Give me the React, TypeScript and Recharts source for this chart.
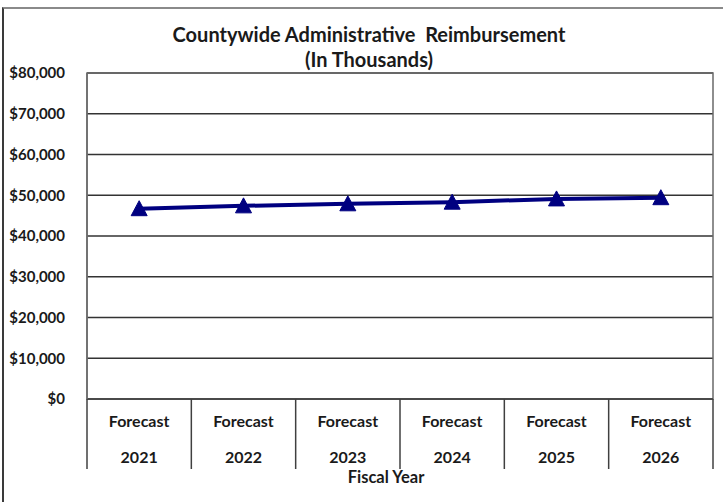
import React from 'react';
import { LineChart, Line, XAxis, YAxis, CartesianGrid, ReferenceArea } from 'recharts';

const categoryPrefix = ['Forecast', 'Forecast', 'Forecast', 'Forecast', 'Forecast', 'Forecast'];
const years = ['2021', '2022', '2023', '2024', '2025', '2026'];
const reimbursement = [46700, 47400, 47900, 48300, 49100, 49400];
const yTicks = [0, 10000, 20000, 30000, 40000, 50000, 60000, 70000, 80000];

const data = years.map((y, i) => ({
  key: `${categoryPrefix[i]} ${y}`,
  top: categoryPrefix[i],
  year: y,
  value: reimbursement[i],
}));

const FONT = 'Lato, "Open Sans", sans-serif';
const TEXT = '#1a1a1a';

const XTick = (props: any) => {
  const { x, y, payload, index, visibleTicksCount } = props;
  const half = payload && payload.offset ? payload.offset : 52;
  const d = data[index] || { top: '', year: '' };
  const isLast = index === visibleTicksCount - 1;
  return (
    <g>
      <line x1={x - half} x2={x - half} y1={y} y2={y + 70} stroke="#404040" strokeWidth={1.5} />
      {isLast && <line x1={x + half} x2={x + half} y1={y} y2={y + 70} stroke="#404040" strokeWidth={1.5} />}
      <text x={x} y={y + 21} textAnchor="middle" dominantBaseline="central" fontFamily={FONT} fontWeight={700} fontSize={16} fill={TEXT}>
        {d.top}
      </text>
      <text x={x} y={y + 57} textAnchor="middle" dominantBaseline="central" fontFamily={FONT} fontWeight={700} fontSize={16} fill={TEXT}>
        {d.year}
      </text>
    </g>
  );
};

const Triangle = (props: any) => {
  const { cx, cy, index } = props;
  if (cx == null || cy == null) return <g key={`t${index}`} />;
  return (
    <polygon
      key={`t${index}`}
      points={`${cx},${cy - 8} ${cx - 8},${cy + 7} ${cx + 8},${cy + 7}`}
      fill="#000080"
      stroke="#000080"
    />
  );
};

export default function App() {
  return (
    <div style={{ position: 'absolute', left: 0, top: 0, width: 723, height: 502, background: '#fff', overflow: 'hidden' }}>
      <div
        style={{
          position: 'absolute',
          left: 2,
          top: 7,
          width: 760,
          height: 560,
          borderLeft: '2px solid #3a3a3a',
          borderTop: '2px solid #8a8a8a',
        }}
      />
      <div
        style={{
          position: 'absolute',
          left: 0,
          top: 22,
          width: 738,
          textAlign: 'center',
          fontFamily: FONT,
          fontWeight: 700,
          fontSize: 20,
          lineHeight: '25px',
          color: TEXT,
        }}
      >
        <div>Countywide Administrative&nbsp; Reimbursement</div>
        <div>(In Thousands)</div>
      </div>
      <div
        style={{
          position: 'absolute',
          left: 0,
          top: 468,
          width: 772,
          textAlign: 'center',
          fontFamily: FONT,
          fontWeight: 700,
          fontSize: 16.5,
          lineHeight: '18px',
          color: TEXT,
        }}
      >
        Fiscal Year
      </div>
      <div style={{ position: 'absolute', left: 0, top: 0 }}>
        <LineChart width={723} height={502} data={data} margin={{ top: 73, right: 10, left: 0, bottom: 33 }}>
          <CartesianGrid vertical={false} stroke="#333333" strokeWidth={1.5} />
          <ReferenceArea
            x1={data[0].key}
            x2={data[data.length - 1].key}
            y1={0}
            y2={80000}
            fill="none"
            stroke="#6a6a6a"
            strokeWidth={1.5}
            ifOverflow="extendDomain"
          />
          <XAxis
            dataKey="key"
            scale="band"
            interval={0}
            height={70}
            tickSize={0}
            tickMargin={0}
            tickLine={false}
            axisLine={{ stroke: '#404040', strokeWidth: 1.5 }}
            tick={<XTick />}
          />
          <YAxis
            width={87}
            domain={[0, 80000]}
            ticks={yTicks}
            interval={0}
            tickSize={0}
            tickMargin={22}
            tickLine={false}
            axisLine={{ stroke: '#6a6a6a', strokeWidth: 1.5 }}
            tickFormatter={(v: number) => `$${v.toLocaleString('en-US')}`}
            tick={{ fill: TEXT, fontSize: 15, fontWeight: 700, fontFamily: FONT }}
          />
          <Line
            type="linear"
            dataKey="value"
            stroke="#000080"
            strokeWidth={4}
            dot={Triangle}
            activeDot={false}
            isAnimationActive={false}
          />
        </LineChart>
      </div>
    </div>
  );
}
